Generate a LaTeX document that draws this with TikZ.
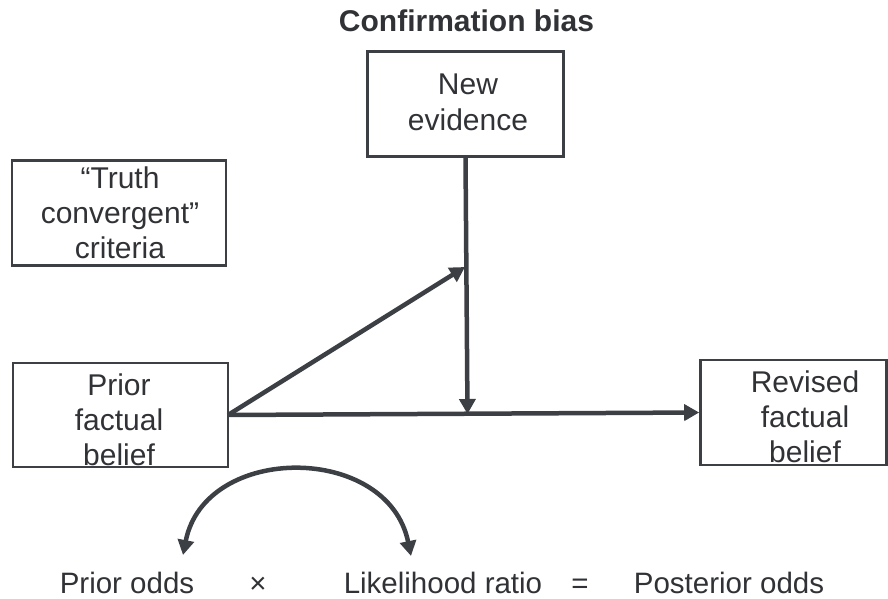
\documentclass[tikz,border=0pt]{standalone}
\usepackage{fontspec}
\setmainfont{Liberation Sans}
\usetikzlibrary{arrows.meta}
\definecolor{ink}{HTML}{3C3F44}
\definecolor{txt}{HTML}{303236}
\tikzset{
  >={Triangle[length=15pt,width=16pt]},
  box/.style={draw=ink, line width=2.6pt, inner sep=0pt},
  boxtext/.style={align=center, inner sep=0pt, anchor=north, text=txt,
    font=\fontsize{30}{35}\selectfont},
  link/.style={draw=ink, line width=4.5pt, ->},
  swap/.style={draw=ink, line width=4.5pt, <->},
  label/.style={text=txt, font=\fontsize{29.5}{32}\selectfont, inner sep=0pt, anchor=base},
}
\begin{document}
\begin{tikzpicture}[x=1pt,y=-1pt]
\useasboundingbox (0,0) rectangle (888,599);

\node[text=txt, font=\bfseries\fontsize{30}{32}\selectfont, anchor=base, inner sep=0pt] (title) at (466.5,32) {Confirmation bias};

% boxes
\node[box, minimum width=196pt, minimum height=105pt] (new) at (465.5,104) {};
\node[box, minimum width=214pt, minimum height=105pt] (truth) at (119,213) {};
\node[box, minimum width=215pt, minimum height=104pt] (prior) at (120.5,415) {};
\node[box, minimum width=186pt, minimum height=105pt] (revised) at (793.5,412.5) {};

% box captions
\node[boxtext, font=\fontsize{30}{36}\selectfont] (newtext) at (468,73.3) {New\\evidence};
\node[boxtext] (truthtext) at (120,166.3) {``Truth\\convergent''\\criteria};
\node[boxtext] (priortext) at (119,373.3) {Prior\\factual\\belief};
\node[boxtext] (revisedtext) at (805,370.3) {Revised\\factual\\belief};

% junctions on the main line
\coordinate (src) at (228,415);
\coordinate (meet) at (465,267);
\coordinate (drop) at (467.5,414);

\draw[link] (src) -- (revised.west);
\draw[link] (src) -- (meet);
\draw[link] (new.south) -- (drop);

% odds form of Bayes' rule
\node[label] (po) at (127,593) {Prior odds};
\node[label] (times) at (258,593) {×};
\node[label] (lr) at (443,593) {Likelihood ratio};
\node[label] (eq) at (580,593) {=};
\node[label] (post) at (729,593) {Posterior odds};

\coordinate (lt) at (183,555);
\coordinate (rt) at (411,556);
\draw[swap] (lt) .. controls (205,443) and (388,443) .. (rt);
\end{tikzpicture}
\end{document}
